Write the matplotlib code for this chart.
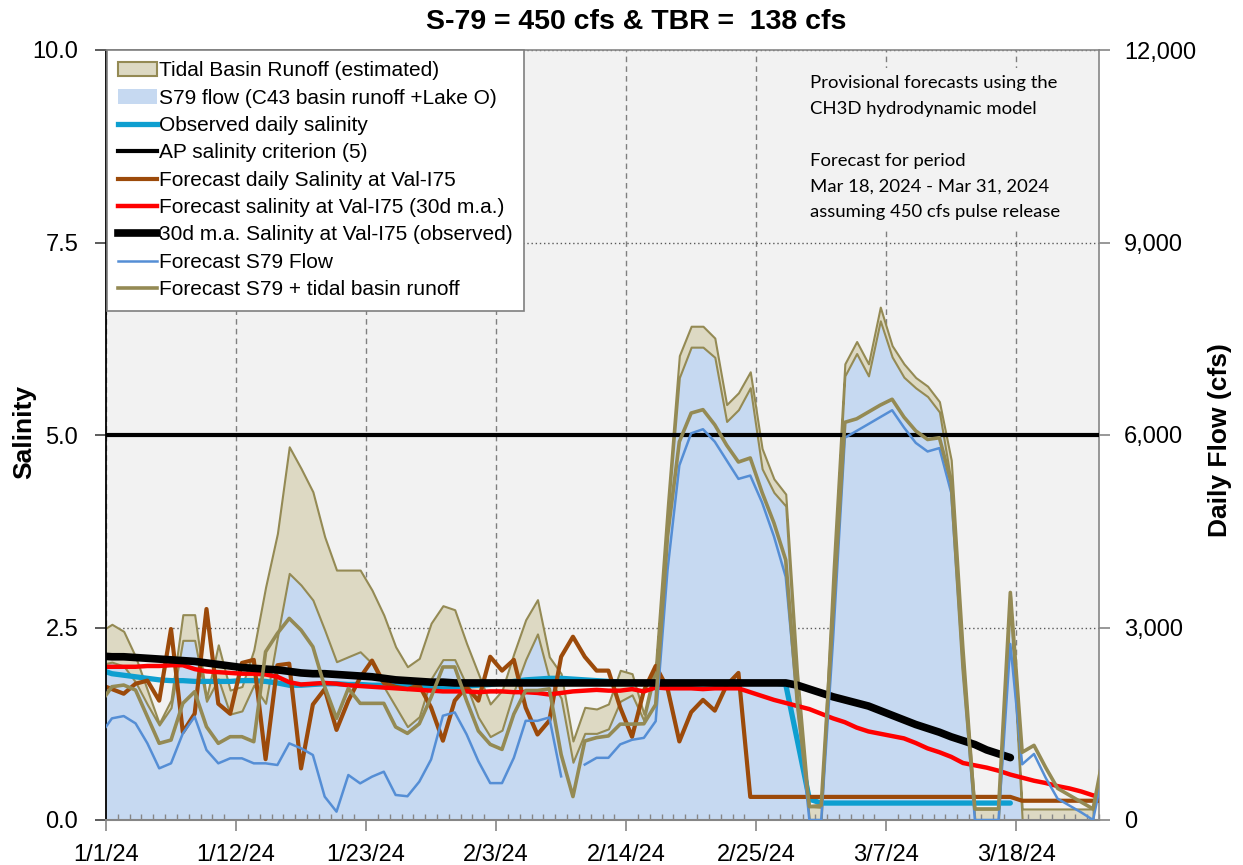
import numpy as np
import matplotlib
matplotlib.use("Agg")
import matplotlib.pyplot as plt
from matplotlib.lines import Line2D
from matplotlib.patches import Patch
from matplotlib.ticker import FuncFormatter, MultipleLocator

plt.rcParams['font.family'] = ['Liberation Sans', 'DejaVu Sans']

nan = np.nan

# day offset from 1/1/24 (-1 = 12/31/23, clipped by the axis)
DAYS = np.arange(-1, 85)

TICK_POS = [0, 11, 22, 33, 44, 55, 66, 77]
TICK_LABELS = ["1/1/24", "1/12/24", "1/23/24", "2/3/24", "2/14/24",
               "2/25/24", "3/7/24", "3/18/24"]

# observed S79 flow (cfs)
S79_FLOW = np.array([
    2420, 2460, 2400, 2150, 1800, 1480, 1750, 2800, 2800, 1850,
    2200, 1650, 1700, 2100, 1818, 2851, 3843, 3661, 3428, 2960,
    2467, 2545, 2622, 2441, 2077, 1766, 1454, 1610, 2200, 2500,
    2500, 2100, 1600, 1300, 1400, 2000, 2500, 2900, 2200, 1900,
    900, 1350, 1350, 1420, 1850, 1950, 1550, 2315, 4684, 6895,
    7369, 7369, 7211, 6211, 6395, 6737, 5474, 5105, 4894, 1900,
    0, 0, 3600, 6921, 7270, 6921, 7779, 7216, 6900, 6734,
    6600, 6359, 5261, 2368, 0, 0, 0, 3370, 0, 0,
    0, 0, 0, 0, 0, nan])

# tidal basin runoff (cfs), stacked on S79
TIDAL_RUNOFF = np.array([
    515, 590, 540, 395, 225, 26, 120, 400, 400, 50,
    530, 375, 380, 550, 1812, 1615, 1973, 1818, 1687, 1454,
    1428, 1350, 1273, 1142, 1117, 934, 935, 909, 867, 840,
    777, 652, 680, 508, 618, 595, 620, 534, 343, 380,
    331, 406, 380, 388, 483, 330, 101, 135, 263, 342,
    326, 326, 300, 263, 263, 248, 315, 211, 185, 400,
    209, 198, 300, 188, 187, 188, 214, 177, 209, 161,
    161, 161, 348, 332, 172, 172, 172, 176, 172, 172,
    172, 172, 172, 172, 172, nan])

# forecast S79 flow (cfs)
FC_S79 = np.array([
    1324, 1584, 1620, 1506, 1195, 805, 883, 1350, 1610, 1091,
    883, 961, 961, 883, 883, 857, 1195, 1117, 1013, 364,
    130, 701, 571, 675, 753, 390, 370, 597, 943, 1625,
    1677, 1336, 916, 575, 575, 969, 1546, 1546, 1598, 680,
    nan, 864, 969, 969, 1179, 1250, 1280, 1540, 3894, 5526,
    6026, 6090, 5895, 5605, 5316, 5368, 4947, 4421, 3789, 1788,
    0, 0, 2800, 5957, 6064, 6171, 6279, 6386, 6118, 5877,
    5743, 5796, 5100, 2368, 0, 0, 0, 2743, 868, 1029,
    654, 332, 225, 118, 0, 900])

# forecast S79 + tidal basin runoff (cfs)
FC_TOTAL = np.array([
    1819, 2077, 2103, 2025, 1610, 1195, 1246, 1818, 1999, 1454,
    1195, 1298, 1298, 1220, 2622, 2908, 3142, 2960, 2700, 2077,
    1584, 2051, 1818, 1818, 1818, 1450, 1350, 1500, 1913, 2385,
    2385, 1861, 1388, 1179, 1100, 1651, 2018, 2018, 2044, 1021,
    365, 1231, 1284, 1310, 1494, 1494, 1500, 1800, 4421, 5895,
    6342, 6395, 6158, 5842, 5579, 5642, 5105, 4631, 4052, 1788,
    209, 225, 3225, 6198, 6252, 6359, 6466, 6557, 6279, 6064,
    5930, 5957, 5261, 2368, 172, 172, 172, 3546, 1055, 1163,
    814, 493, 386, 279, 172, 1136])

# observed daily salinity
OBS_SAL = np.array([
    1.95, 1.90, 1.88, 1.86, 1.84, 1.82, 1.81, 1.81, 1.80, 1.80,
    1.80, 1.80, 1.81, 1.81, 1.80, 1.78, 1.75, 1.75, 1.76, 1.77,
    1.77, 1.76, 1.76, 1.75, 1.75, 1.75, 1.74, 1.74, 1.73, 1.73,
    1.73, 1.74, 1.75, 1.76, 1.78, 1.80, 1.82, 1.83, 1.84, 1.84,
    1.83, 1.82, 1.81, 1.80, 1.79, 1.78, 1.78, 1.78, 1.78, 1.78,
    1.78, 1.78, 1.78, 1.78, 1.78, 1.78, 1.78, 1.78, 1.76, 1.02,
    0.27, 0.22, 0.22, 0.22, 0.22, 0.22, 0.22, 0.22, 0.22, 0.22,
    0.22, 0.22, 0.22, 0.22, 0.22, 0.22, 0.22, 0.22, nan, nan,
    nan, nan, nan, nan, nan, nan])

AP_CRITERION = 5.0

# forecast daily salinity at Val-I75
FC_DAILY_SAL = np.array([
    1.76, 1.70, 1.64, 1.77, 1.81, 1.55, 2.48, 1.14, 1.38, 2.74,
    1.51, 1.38, 2.04, 2.08, 0.79, 2.01, 2.03, 0.67, 1.50, 1.70,
    1.17, 1.55, 1.85, 2.07, 1.78, 1.73, 1.70, 1.75, 1.46, 1.03,
    1.55, 1.73, 1.55, 2.12, 1.94, 2.08, 1.46, 1.11, 1.29, 2.12,
    2.38, 2.12, 1.94, 1.94, 1.46, 1.08, 1.68, 2.00, 1.71, 1.02,
    1.40, 1.56, 1.42, 1.75, 1.91, 0.30, 0.30, 0.30, 0.30, 0.30,
    0.30, 0.30, 0.30, 0.30, 0.30, 0.30, 0.30, 0.30, 0.30, 0.30,
    0.30, 0.30, 0.30, 0.30, 0.30, 0.30, 0.30, 0.30, 0.25, 0.25,
    0.25, 0.25, 0.25, 0.25, 0.25, 0.25])

# forecast 30d moving average salinity
FC_30D_SAL = np.array([
    1.99, 1.99, 1.99, 1.99, 2.00, 2.00, 2.01, 2.01, 1.96, 1.93,
    1.92, 1.91, 1.90, 1.90, 1.89, 1.86, 1.79, 1.76, 1.77, 1.78,
    1.77, 1.75, 1.74, 1.73, 1.72, 1.71, 1.70, 1.69, 1.68, 1.67,
    1.67, 1.67, 1.66, 1.67, 1.67, 1.66, 1.66, 1.65, 1.63, 1.65,
    1.67, 1.68, 1.69, 1.68, 1.68, 1.70, 1.67, 1.72, 1.71, 1.71,
    1.71, 1.70, 1.71, 1.71, 1.71, 1.66, 1.61, 1.56, 1.52, 1.48,
    1.44, 1.38, 1.32, 1.27, 1.20, 1.15, 1.12, 1.09, 1.06, 1.00,
    0.93, 0.88, 0.82, 0.74, 0.71, 0.68, 0.64, 0.59, 0.55, 0.51,
    0.48, 0.44, 0.41, 0.37, 0.32, 0.28])

# observed 30d moving average salinity
OBS_30D_SAL = np.array([
    2.13, 2.12, 2.12, 2.11, 2.10, 2.09, 2.08, 2.07, 2.06, 2.04,
    2.02, 2.00, 1.98, 1.97, 1.96, 1.95, 1.93, 1.91, 1.90, 1.90,
    1.89, 1.88, 1.87, 1.86, 1.84, 1.82, 1.81, 1.80, 1.79, 1.79,
    1.78, 1.78, 1.78, 1.78, 1.78, 1.78, 1.78, 1.78, 1.78, 1.78,
    1.78, 1.78, 1.78, 1.78, 1.78, 1.78, 1.78, 1.78, 1.78, 1.78,
    1.78, 1.78, 1.78, 1.78, 1.78, 1.78, 1.78, 1.78, 1.78, 1.75,
    1.70, 1.65, 1.60, 1.56, 1.52, 1.48, 1.42, 1.36, 1.30, 1.24,
    1.19, 1.14, 1.08, 1.03, 0.98, 0.91, 0.86, 0.81, nan, nan,
    nan, nan, nan, nan, nan, nan])

LEGEND_LABELS = [
    "Tidal Basin Runoff (estimated)",
    "S79 flow (C43 basin runoff +Lake O)",
    "Observed daily salinity",
    "AP salinity criterion (5)",
    "Forecast daily Salinity at Val-I75",
    "Forecast salinity at Val-I75 (30d m.a.)",
    "30d m.a. Salinity at Val-I75 (observed)",
    "Forecast S79 Flow",
    "Forecast S79 + tidal basin runoff",
]

TAN = '#DDD9C3'
OLIVE = '#948A54'
LIGHT_BLUE = '#C6D9F1'
CYAN = '#0E9FD0'
BROWN = '#9C4A0A'
FC_BLUE = '#558ED5'
GRAY = '#868686'

x = DAYS + 0.5

fig = plt.figure(figsize=(12.43, 8.65), dpi=100)
rect = [106 / 1243, 45 / 865, 993 / 1243, 770 / 865]
ax_flow = fig.add_axes(rect, zorder=1)
ax_sal = fig.add_axes(rect, sharex=ax_flow, zorder=2)
ax_fc = fig.add_axes(rect, sharex=ax_flow, sharey=ax_flow, zorder=3)

# flow areas (bottom layer)
ax_flow.set_facecolor('#F2F2F2')
ax_flow.fill_between(x, 0, S79_FLOW, facecolor=LIGHT_BLUE, edgecolor='none', lw=0)
ax_flow.fill_between(x, S79_FLOW, S79_FLOW + TIDAL_RUNOFF,
                     facecolor=TAN, edgecolor=OLIVE, lw=1.5)

# salinity lines
ax_sal.patch.set_visible(False)
ax_sal.plot(x, OBS_SAL, color=CYAN, lw=3.8, solid_capstyle='round')
ax_sal.axhline(AP_CRITERION, color='black', lw=3)
ax_sal.plot(x, FC_DAILY_SAL, color=BROWN, lw=3)
ax_sal.plot(x, FC_30D_SAL, color='#FF0000', lw=3.2)
ax_sal.plot(x, OBS_30D_SAL, color='black', lw=5.5, solid_capstyle='round')

# forecast flow lines (top layer)
ax_fc.plot(x, FC_S79, color=FC_BLUE, lw=1.8)
ax_fc.plot(x, FC_TOTAL, color=OLIVE, lw=2.6)
ax_fc.set_axis_off()

ax_sal.set_xlim(0, 84)
ax_sal.set_ylim(0, 10)
ax_flow.set_ylim(0, 12000)

# x axis
ax_sal.set_xticks(TICK_POS)
ax_sal.set_xticklabels(TICK_LABELS)
ax_sal.xaxis.set_minor_locator(MultipleLocator(1))
ax_sal.tick_params(axis='x', which='major', direction='out', length=8, width=1.2,
                   color=GRAY, labelsize=17, pad=9)
ax_sal.tick_params(axis='x', which='minor', direction='in', length=4, width=1, color=GRAY)

# left axis
ax_sal.set_yticks([0, 2.5, 5, 7.5, 10])
ax_sal.yaxis.set_major_formatter(FuncFormatter(lambda v, p: f"{v:.1f}"))
ax_sal.tick_params(axis='y', direction='out', length=8, width=1.2, color='#404040',
                   labelsize=17, pad=12, right=False)

# right axis
ax_flow.yaxis.tick_right()
ax_flow.set_yticks([0, 3000, 6000, 9000, 12000])
ax_flow.yaxis.set_major_formatter(FuncFormatter(lambda v, p: f"{v:,.0f}"))
ax_flow.tick_params(axis='y', direction='out', length=8, width=1.2, color=GRAY,
                    labelsize=17, pad=10)
ax_flow.tick_params(axis='x', which='both', bottom=False, labelbottom=False)

# gridlines sit under the areas
ax_flow.set_axisbelow(True)
ax_flow.grid(axis='x', which='major', color='#7F7F7F', lw=1, ls=(0, (4, 3)))
ax_flow.grid(axis='y', color='#595959', lw=1, ls=(0, (1, 2)))

for name, sp in ax_flow.spines.items():
    sp.set_visible(name == 'right')
ax_flow.spines['right'].set_color(GRAY)
ax_flow.spines['right'].set_linewidth(1.2)
ax_sal.spines['right'].set_visible(False)
ax_sal.spines['left'].set_color('black')
ax_sal.spines['left'].set_linewidth(1.3)
ax_sal.spines['bottom'].set_color(GRAY)
ax_sal.spines['bottom'].set_linewidth(1.5)
ax_sal.spines['top'].set_color(GRAY)
ax_sal.spines['top'].set_linewidth(1.2)

handles = [
    Patch(facecolor=TAN, edgecolor=OLIVE, lw=1.5),
    Patch(facecolor=LIGHT_BLUE, edgecolor='none'),
    Line2D([], [], color=CYAN, lw=3.8),
    Line2D([], [], color='black', lw=3),
    Line2D([], [], color=BROWN, lw=3),
    Line2D([], [], color='#FF0000', lw=3.2),
    Line2D([], [], color='black', lw=5.5),
    Line2D([], [], color=FC_BLUE, lw=1.8),
    Line2D([], [], color=OLIVE, lw=2.6),
]
leg = ax_fc.legend(handles, LEGEND_LABELS, loc='upper left', bbox_to_anchor=(0.001, 1.0),
                   borderaxespad=0, frameon=True, fancybox=False, edgecolor='#7F7F7F',
                   facecolor='white', framealpha=1, fontsize=15, handlelength=1.85,
                   handletextpad=0.1, labelspacing=0.4, borderpad=0.55)
leg.get_frame().set_linewidth(1.2)

fig.text(636 / 1243, 1 - 22 / 865, "S-79 = 450 cfs & TBR =  138 cfs",
         ha='center', va='center', fontsize=20.5, fontweight='bold')
fig.text(24 / 1243, 1 - 432 / 865, "Salinity", rotation=90, ha='center', va='center',
         fontsize=19, fontweight='bold')
fig.text(1220 / 1243, 1 - 440 / 865, "Daily Flow (cfs)", rotation=90, ha='center',
         va='center', fontsize=19, fontweight='bold')

note = ("Provisional forecasts using the\nCH3D hydrodynamic model\n\n"
        "Forecast for period\nMar 18, 2024 - Mar 31, 2024\n"
        "assuming 450 cfs pulse release")
fig.text(810 / 1243, 1 - 75 / 865, note, ha='left', va='top', fontsize=13.3,
         family=['Lato', 'DejaVu Sans'], linespacing=1.76, zorder=10,
         bbox=dict(boxstyle='square,pad=0.4', facecolor='#F2F2F2', edgecolor='none'))

fig.savefig("out.png", dpi=100)
